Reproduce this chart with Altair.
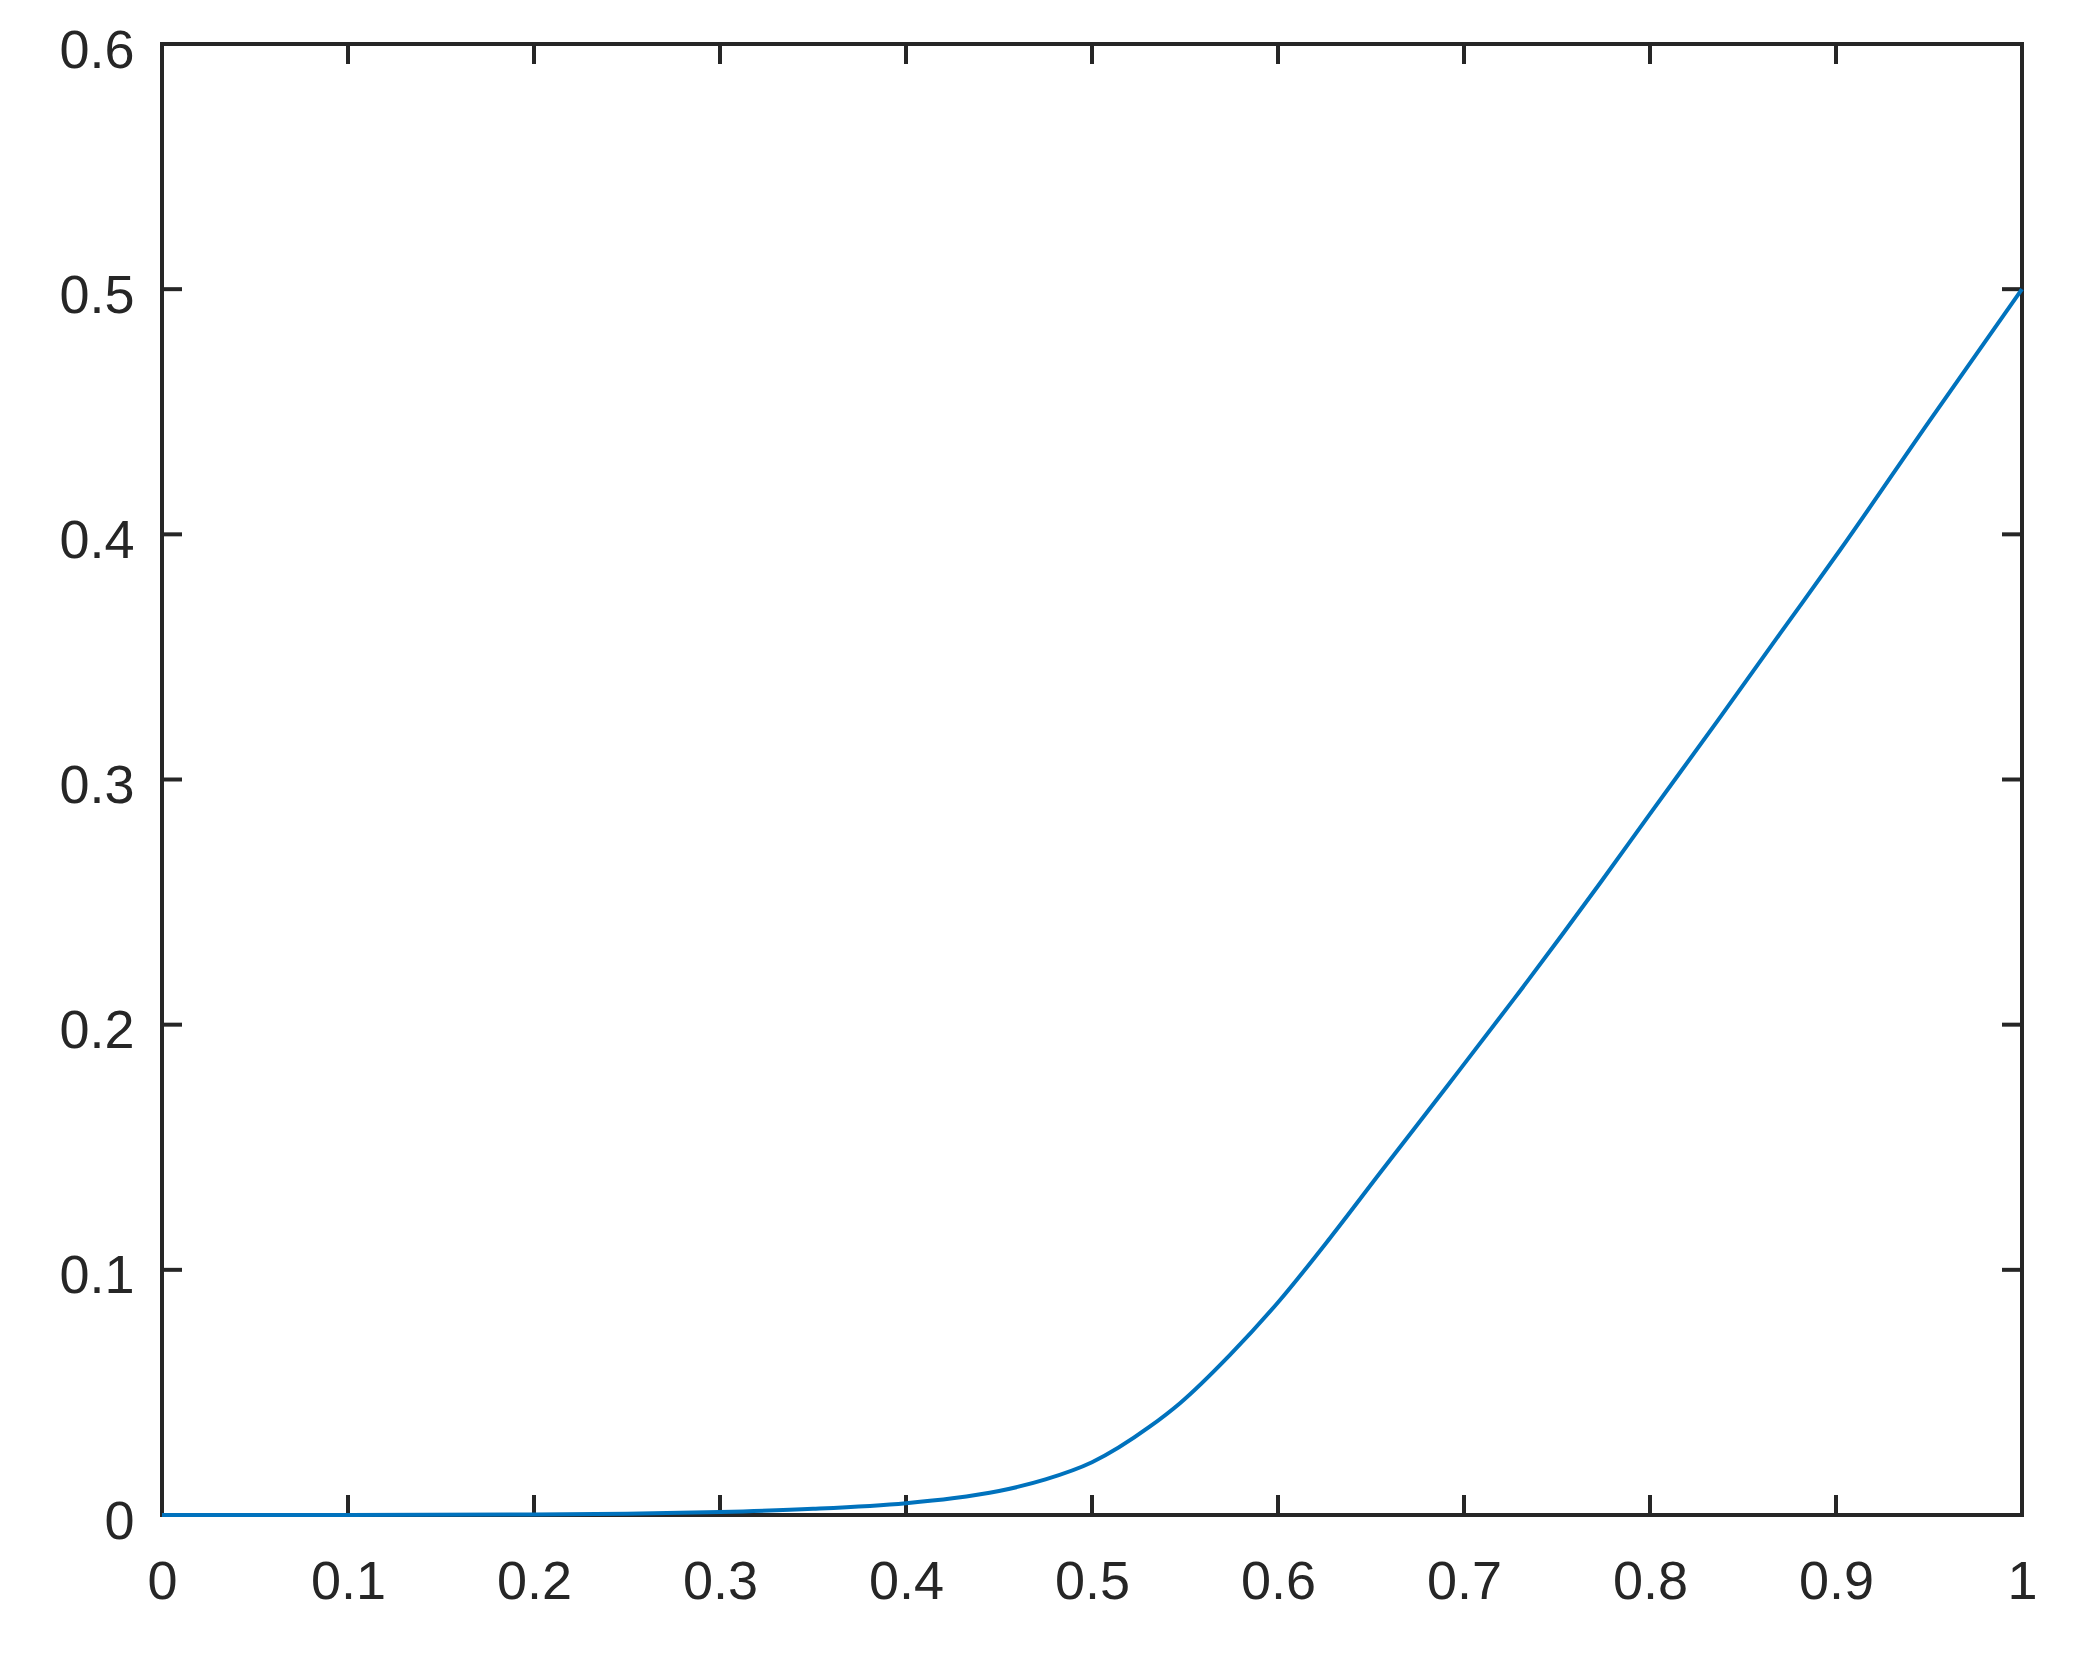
import altair as alt
import pandas as pd

# Curve values
x_vals = [0.0, 0.1, 0.2, 0.25, 0.3, 0.35, 0.4, 0.425, 0.45, 0.475, 0.5, 0.531, 0.5473,
          0.5742, 0.6011, 0.628, 0.6548, 0.6907, 0.7265, 0.7731, 0.8, 0.8367, 0.87,
          0.9022, 0.95, 1.0]
y_vals = [0.0, 0.0, 0.0002, 0.0005, 0.0012, 0.0025, 0.0048, 0.0068, 0.0098, 0.0145,
          0.0215, 0.0360, 0.0456, 0.0653, 0.0877, 0.113, 0.1395, 0.1747, 0.2101, 0.2577,
          0.286, 0.3243, 0.3596, 0.3936, 0.446, 0.5]

x_ticks = [0.0, 0.1, 0.2, 0.3, 0.4, 0.5, 0.6, 0.7, 0.8, 0.9, 1.0]
y_ticks = [0.0, 0.1, 0.2, 0.3, 0.4, 0.5, 0.6]

W, H = 1860, 1471
TICK = 20
AX = "#262626"
FONT = "Liberation Sans"

curve = pd.DataFrame({"x": x_vals, "y": y_vals})
xt = pd.DataFrame({"x": x_ticks})
yt = pd.DataFrame({"y": y_ticks})

xscale = alt.Scale(domain=[0, 1], nice=False, zero=False)
yscale = alt.Scale(domain=[0, 0.6], nice=False, zero=False)

x_axis = alt.Axis(values=x_ticks, format=".1~f", ticks=False, domain=False, grid=False,
                  labelPadding=40, labelFontSize=54, labelFont=FONT, labelColor=AX,
                  title=None, labelFlush=False)
y_axis = alt.Axis(values=y_ticks, format=".1~f", ticks=False, domain=False, grid=False,
                  labelPadding=28, labelFontSize=54, labelFont=FONT, labelColor=AX,
                  labelOffset=7, title=None, labelFlush=False)

line = alt.Chart(curve).mark_line(color="#0072BD", strokeWidth=4, interpolate="monotone").encode(
    x=alt.X("x:Q", scale=xscale, axis=x_axis),
    y=alt.Y("y:Q", scale=yscale, axis=y_axis),
)

bottom_ticks = alt.Chart(xt).mark_rule(color=AX, strokeWidth=4).encode(
    x=alt.X("x:Q", scale=xscale), y=alt.value(H), y2=alt.value(H - TICK))
top_ticks = alt.Chart(xt).mark_rule(color=AX, strokeWidth=4).encode(
    x=alt.X("x:Q", scale=xscale), y=alt.value(0), y2=alt.value(TICK))
left_ticks = alt.Chart(yt).mark_rule(color=AX, strokeWidth=4).encode(
    y=alt.Y("y:Q", scale=yscale), x=alt.value(0), x2=alt.value(TICK))
right_ticks = alt.Chart(yt).mark_rule(color=AX, strokeWidth=4).encode(
    y=alt.Y("y:Q", scale=yscale), x=alt.value(W), x2=alt.value(W - TICK))

chart = alt.layer(bottom_ticks, top_ticks, left_ticks, right_ticks, line).properties(
    width=W, height=H,
    background="white",
    autosize=alt.AutoSizeParams(type="none"),
    padding={"left": 154, "top": 36, "right": 46, "bottom": 133},
).configure_view(
    stroke=AX, strokeWidth=4
)

chart.save("out.html", embed_options={"renderer": "svg", "actions": False})
